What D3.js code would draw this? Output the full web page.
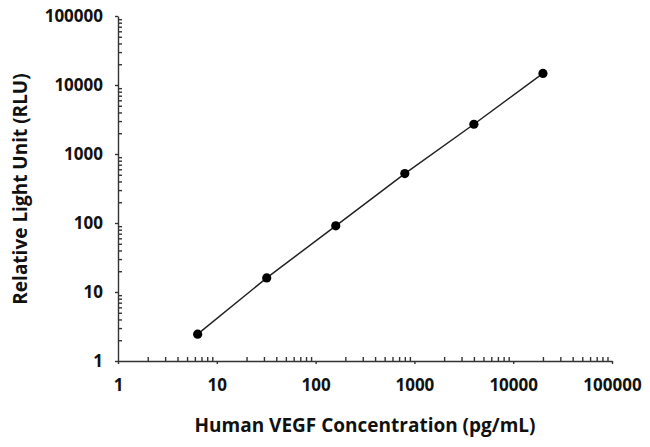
<!DOCTYPE html>
<html lang="en">
<head>
    <meta charset="UTF-8">
    <title>VEGF standard curve</title>
    <script src="https://d3js.org/d3.v7.min.js"></script>
    <style type="text/css">
        body {
            margin: 0;
            background-color: #fff;
        }

        .axis path, .axis line {
            stroke: #333;
            stroke-width: 1.4px;
        }

        .axis text {
            font-family: "Open Sans", sans-serif;
            font-weight: 700;
            font-size: 17px;
            fill: #111;
        }

        .label {
            font-family: "Open Sans", sans-serif;
            font-weight: 700;
            font-size: 19px;
            fill: #111;
            text-anchor: middle;
        }

        .fit {
            fill: none;
            stroke: #222;
            stroke-width: 1.5px;
        }
    </style>
</head>
<body>
    <script type="text/javascript">
        //CONSTANTS & GLOBALS
        const width = 650;
        const height = 447;
        const plotLeft = 118, plotRight = 612, plotTop = 16, plotBottom = 361;

        // standard curve points
        const concentration = [6.4, 32, 160, 800, 4000, 20000]; // pg/mL
        const rlu = [2.45, 16, 91, 520, 2700, 14700];
        const xDomain = [1, 100000];
        const yDomain = [1, 100000];
        const xTitle = "Human VEGF Concentration (pg/mL)";
        const yTitle = "Relative Light Unit (RLU)";

        const data = concentration.map((c, i) => ({x: c, y: rlu[i]}));

        //SCALES
        const xScale = d3.scaleLog().domain(xDomain).range([plotLeft, plotRight]);
        const yScale = d3.scaleLog().domain(yDomain).range([plotBottom, plotTop]);

        const isDecade = v => Math.abs(Math.log10(v) - Math.round(Math.log10(v))) < 1e-9;
        const xMajor = xScale.ticks().filter(isDecade);
        const xMinor = xScale.ticks().filter(v => !isDecade(v));
        const yMajor = yScale.ticks().filter(isDecade);
        const yMinor = yScale.ticks().filter(v => !isDecade(v));

        //CREATE SVG
        const svg = d3.select("body")
            .append("svg")
            .attr("width", width)
            .attr("height", height);

        //X-AXIS: minor ticks point inward, majors outward with labels
        svg.append("g")
            .attr("class", "axis")
            .attr("transform", "translate(0," + plotBottom + ")")
            .call(d3.axisBottom(xScale).tickValues(xMinor).tickSize(-4).tickSizeOuter(0).tickFormat(""));

        const gx = svg.append("g")
            .attr("class", "axis")
            .attr("transform", "translate(0," + plotBottom + ")")
            .call(d3.axisBottom(xScale).tickValues(xMajor).tickSize(3).tickSizeOuter(0)
                .tickPadding(15).tickFormat(d3.format("d")));
        gx.select(".domain").remove();

        //Y-AXIS
        svg.append("g")
            .attr("class", "axis")
            .attr("transform", "translate(" + plotLeft + ",0)")
            .call(d3.axisLeft(yScale).tickValues(yMinor).tickSize(-4).tickSizeOuter(0).tickFormat(""));

        const gy = svg.append("g")
            .attr("class", "axis")
            .attr("transform", "translate(" + plotLeft + ",0)")
            .call(d3.axisLeft(yScale).tickValues(yMajor).tickSize(3).tickSizeOuter(0)
                .tickPadding(12).tickFormat(d3.format("d")));
        gy.select(".domain").remove();

        //LINE
        const line = d3.line()
            .x(d => xScale(d.x))
            .y(d => yScale(d.y));

        svg.append("path")
            .attr("class", "fit")
            .attr("d", line(data));

        //POINTS
        svg.selectAll("circle")
            .data(data)
            .join("circle")
            .attr("cx", d => xScale(d.x))
            .attr("cy", d => yScale(d.y))
            .attr("r", 4.6)
            .attr("fill", "#000");

        //AXIS TITLES
        svg.append("text")
            .attr("class", "label")
            .attr("x", 365)
            .attr("y", 432)
            .text(xTitle);

        svg.append("text")
            .attr("class", "label")
            .attr("transform", "rotate(-90)")
            .attr("x", -189)
            .attr("y", 27)
            .text(yTitle);
    </script>
</body>
</html>
